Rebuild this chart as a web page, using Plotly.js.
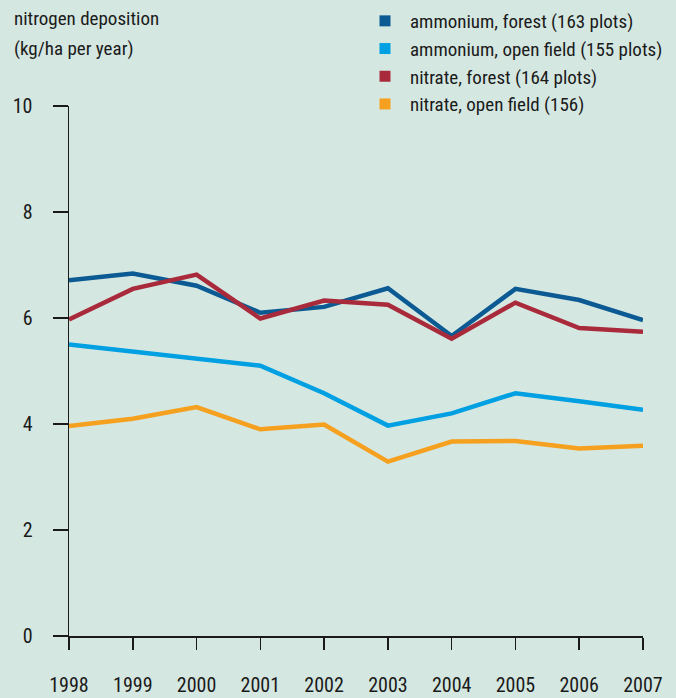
<!DOCTYPE html>
<html><head><meta charset="utf-8">
<script src="https://cdn.plot.ly/plotly-3.0.1.min.js"></script>
<style>html,body{margin:0;padding:0;background:#d5e7e1;}</style>
</head><body><div id="chart" style="width:676px;height:698px;"></div>
<script>
const years = [1998,1999,2000,2001,2002,2003,2004,2005,2006,2007];
const ammoniumForest = [6.71,6.84,6.61,6.10,6.21,6.56,5.66,6.55,6.34,5.96];
const ammoniumOpen   = [5.50,5.37,5.23,5.10,4.58,3.97,4.20,4.58,4.43,4.27];
const nitrateForest  = [5.97,6.55,6.82,5.99,6.33,6.25,5.61,6.29,5.81,5.74];
const nitrateOpen    = [3.96,4.10,4.32,3.90,3.99,3.29,3.67,3.68,3.54,3.59];
const seriesNames = ['ammonium, forest (163 plots)','ammonium, open field (155 plots)','nitrate, forest (164 plots)','nitrate, open field (156)'];
const colors = ['#0b5a94','#00a0e2','#a92a3b','#f6a01f'];
const yTicks = [0,2,4,6,8,10];
const titleLines = ['nitrogen deposition','(kg/ha per year)'];

const font = '"Roboto Condensed", "Liberation Sans Narrow", Roboto, sans-serif';
const series = [ammoniumForest, ammoniumOpen, nitrateForest, nitrateOpen];
const traces = [];
series.forEach((s,i)=>{
  traces.push({x:years,y:s,type:'scatter',mode:'lines',line:{color:colors[i],width:4.5},showlegend:false,hoverinfo:'skip'});
});
series.forEach((s,i)=>{
  traces.push({x:[null],y:[null],type:'scatter',mode:'markers',name:seriesNames[i],marker:{symbol:'square',size:11,color:colors[i]},showlegend:true});
});
const plotH = 698-106-62;
const layout = {
  width:676,height:698,
  paper_bgcolor:'#d5e7e1',plot_bgcolor:'#d5e7e1',
  margin:{l:69,r:33,t:106,b:62,autoexpand:false},
  font:{family:font,size:19,color:'#1a1a1a'},
  annotations: titleLines.map((t,i)=>({text:t,xref:'paper',yref:'paper',x:-57/574,xanchor:'left',y:1+(106-19-i*30)/plotH,yanchor:'middle',showarrow:false,font:{family:font,size:19,color:'#1a1a1a'}})),
  xaxis:{range:[1998,2007],tickvals:years,ticktext:years.map(String),showgrid:false,zeroline:false,showline:true,linecolor:'#1a1a1a',linewidth:1.5,ticks:'outside',ticklen:12,tickwidth:1.5,tickcolor:'#1a1a1a',ticklabelstandoff:18,tickfont:{family:font,size:20}},
  yaxis:{range:[0,10],tickvals:yTicks,ticktext:yTicks.map(String),showgrid:false,zeroline:false,showline:true,linecolor:'#1a1a1a',linewidth:1.5,ticks:'outside',ticklen:15,tickwidth:1.5,tickcolor:'#1a1a1a',ticklabelstandoff:16,tickfont:{family:font,size:20}},
  legend:{x:(360-69)/574,xref:'paper',xanchor:'left',y:1+(106-2)/plotH,yref:'paper',yanchor:'top',bgcolor:'rgba(0,0,0,0)',font:{family:font,size:19},itemwidth:40,tracegroupgap:0},
  showlegend:true
};
Plotly.newPlot('chart',traces,layout,{displayModeBar:false,staticPlot:true});
</script></body></html>
